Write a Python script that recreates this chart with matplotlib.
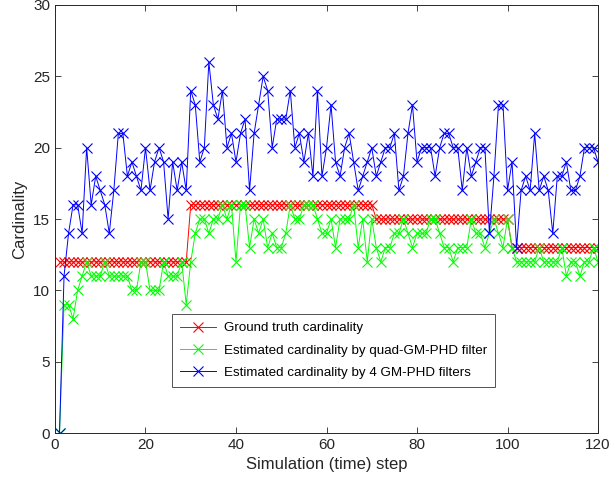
import matplotlib
matplotlib.use("Agg")
import matplotlib.pyplot as plt
import numpy as np

plt.rcParams["font.family"] = ["Liberation Sans", "DejaVu Sans"]

# ── Data ──────────────────────────────────────────────────────────────────────
steps = np.arange(1, 121)

truth = [12] * 29 + [16] * 41 + [15] * 30 + [13] * 20

quad_phd = [
    0, 9, 9, 8, 10, 11, 12, 11, 11, 11,
    12, 11, 11, 11, 11, 11, 10, 10, 12, 12,
    10, 10, 10, 12, 11, 11, 11, 12, 9, 12,
    14, 15, 15, 14, 15, 15, 16, 15, 16, 12,
    16, 16, 13, 15, 14, 15, 13, 14, 13, 13,
    14, 16, 15, 15, 16, 16, 16, 15, 14, 14,
    15, 13, 15, 15, 15, 16, 13, 15, 12, 15,
    13, 12, 13, 13, 14, 14, 15, 14, 13, 14,
    14, 14, 15, 15, 14, 13, 13, 12, 13, 13,
    13, 15, 14, 14, 13, 14, 15, 14, 13, 15,
    13, 12, 12, 12, 12, 12, 13, 12, 12, 12,
    12, 13, 11, 12, 12, 11, 12, 12, 13, 12,
]

four_phd = [
    0, 11, 14, 16, 16, 14, 20, 16, 18, 17,
    16, 14, 17, 21, 21, 18, 19, 18, 17, 20,
    17, 19, 20, 19, 15, 19, 17, 19, 17, 24,
    23, 19, 20, 26, 23, 22, 24, 20, 21, 19,
    21, 22, 17, 21, 23, 25, 24, 20, 22, 22,
    22, 24, 20, 21, 19, 21, 18, 24, 18, 20,
    23, 19, 18, 20, 21, 19, 17, 18, 19, 20,
    18, 19, 20, 20, 21, 17, 18, 21, 23, 19,
    20, 20, 20, 18, 20, 21, 21, 20, 20, 17,
    20, 18, 19, 20, 20, 14, 18, 23, 23, 17,
    19, 13, 17, 18, 17, 21, 17, 18, 17, 14,
    18, 18, 19, 17, 17, 18, 20, 20, 20, 19,
]

labels = [
    "Ground truth cardinality",
    "Estimated cardinality by quad-GM-PHD filter",
    "Estimated cardinality by 4 GM-PHD filters",
]

# ── Plot ──────────────────────────────────────────────────────────────────────
fig = plt.figure(figsize=(6.15, 4.9), dpi=100)
ax = fig.add_axes([0.0894, 0.1163, 0.883, 0.8735])

style = dict(marker="x", markersize=7, linewidth=0.7, markeredgewidth=0.8)
ax.plot(steps, truth, color="#ff0000", label=labels[0], **style)
ax.plot(steps, quad_phd, color="#00ff00", label=labels[1], **style)
ax.plot(steps, four_phd, color="#0000ff", label=labels[2], **style)

ax.set_xlim(0, 120)
ax.set_ylim(0, 30)
ax.set_xticks(range(0, 121, 20))
ax.set_yticks(range(0, 31, 5))
ax.tick_params(direction="in", top=True, right=True, labelsize=11,
               colors="#262626", length=4, width=0.6)
for sp in ax.spines.values():
    sp.set_color("#262626")
    sp.set_linewidth(0.7)

ax.set_xlabel("Simulation (time) step", fontsize=12, color="#262626")
ax.set_ylabel("Cardinality", fontsize=12, color="#262626")

leg = ax.legend(loc="lower left", bbox_to_anchor=(0.2155, 0.1075), fontsize=9.6,
                frameon=True, fancybox=False, borderpad=0.6,
                handlelength=2.7, handletextpad=0.6, labelspacing=0.75,
                borderaxespad=0)
leg.get_frame().set_edgecolor("#262626")
leg.get_frame().set_linewidth(0.7)

fig.savefig("out.png", dpi=100)
